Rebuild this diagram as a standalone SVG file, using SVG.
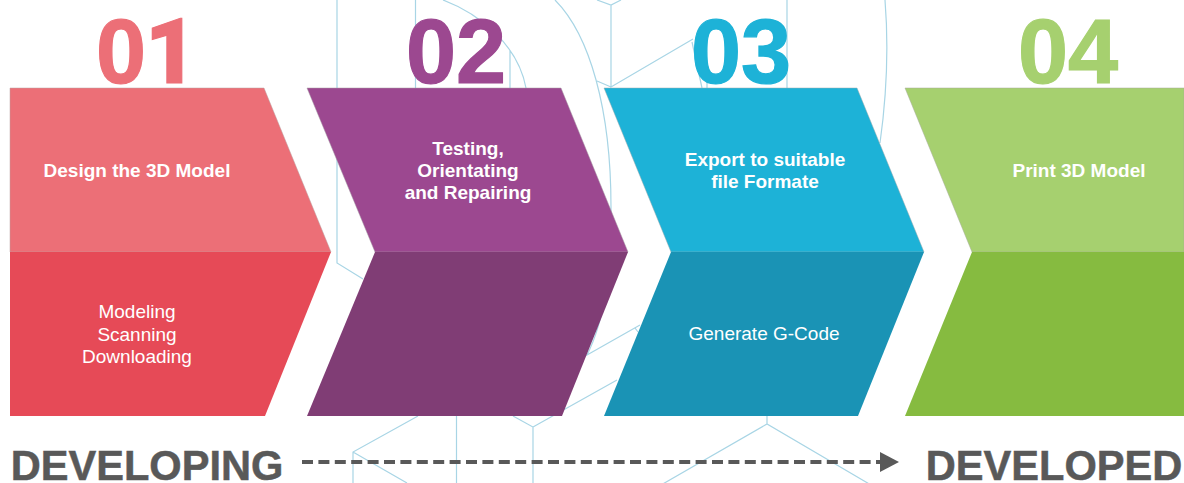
<svg xmlns="http://www.w3.org/2000/svg" width="1184" height="483" viewBox="0 0 1184 483">
<style>
text{font-family:"Liberation Sans",Arial,sans-serif;text-anchor:middle}
.bg{fill:none;stroke:#a8d5e5;stroke-width:1.2}
.num{font-size:90px;font-weight:700;stroke-width:1.2}
.t{font-size:19px;font-weight:700;fill:#fff}
.s{font-size:19px;fill:#fff}
.end{font-size:41.6px;font-weight:700;fill:#595959;stroke:#595959;stroke-width:.5}
</style>
<defs><marker id="arr" markerUnits="userSpaceOnUse" markerWidth="20" markerHeight="20" refX="0" refY="10" orient="auto"><path d="M0 0L19 10L0 20Z" fill="#595959"/></marker></defs>
<g id="background">
<path class="bg" d="M337 0V263L363 279M415.5 0V88M510 50V88M443 0C480 14 518 45 526 88M555 0C590 35 611 110 611 207C611 270 605 320 587 355L640 325M635 328L638 332"/>
<path class="bg" d="M597 0L611 5L621 0M611 5V87L693 39M597 81L611 87M692 42L702 88M707 82V88M787 0V88M885 0C889 50 886 100 880 143"/>
<path class="bg" d="M418 416L353 452V483M353 452L407 483M456.500 416V483M513 416L533 427V483M533 427L617 380M767 416V424M661 485L767 424L871 485"/>
</g>
<g id="step-01">
<path fill="#ec6f77" stroke="#b9a0a0" stroke-width=".5" d="M10 88H264L331 252H10Z"/>
<path fill="#e64a57" d="M10 252H331L265 416H10Z"/>
<text class="num" x="96" y="83" fill="#ec6f77" stroke="#ec6f77" style="text-anchor:start">0<tspan x="145" font-family="Roboto, sans-serif" font-weight="900">1</tspan></text>
<text class="t" x="137" y="177">Design the 3D Model</text>
<text class="s" x="137" y="318">Modeling</text><text class="s" x="137" y="341">Scanning</text><text class="s" x="137" y="363">Downloading</text>
</g>
<g id="step-02">
<path fill="#9c4890" stroke="#a59aa3" stroke-width=".5" d="M307 88H561L628 252H375Z"/>
<path fill="#803d75" d="M375 252H628L562 416H307Z"/>
<text class="num" x="456" y="83" fill="#9c4890" stroke="#9c4890">02</text>
<text class="t" x="468" y="155">Testing,</text><text class="t" x="468" y="177">Orientating</text><text class="t" x="468" y="199">and Repairing</text>
</g>
<g id="step-03">
<path fill="#1db2d7" stroke="#9aa8ac" stroke-width=".5" d="M604 88H857L924 252H671Z"/>
<path fill="#1a93b5" d="M671 252H924L858 416H604Z"/>
<text class="num" x="741" y="83" fill="#1db2d7" stroke="#1db2d7">03</text>
<text class="t" x="765" y="166">Export to suitable</text><text class="t" x="765" y="188">file Formate</text>
<text class="s" x="764" y="340">Generate G-Code</text>
</g>
<g id="step-04">
<path fill="#a6d06f" stroke="#a5ab9a" stroke-width=".5" d="M905 88H1184V252H972Z"/>
<path fill="#86bb40" d="M972 252H1184V416H905Z"/>
<text class="num" x="1068" y="83" fill="#a6d06f" stroke="#a6d06f">04</text>
<text class="t" x="1079" y="177">Print 3D Model</text>
</g>
<g id="connectors">
<path d="M302 462H880" fill="none" stroke="#595959" stroke-width="4" stroke-dasharray="11 5.400" marker-end="url(#arr)"/>
</g>
<g id="label-developing"><text class="end" x="147" y="480">DEVELOPING</text></g>
<g id="label-developed"><text class="end" x="1054" y="480">DEVELOPED</text></g>
</svg>
